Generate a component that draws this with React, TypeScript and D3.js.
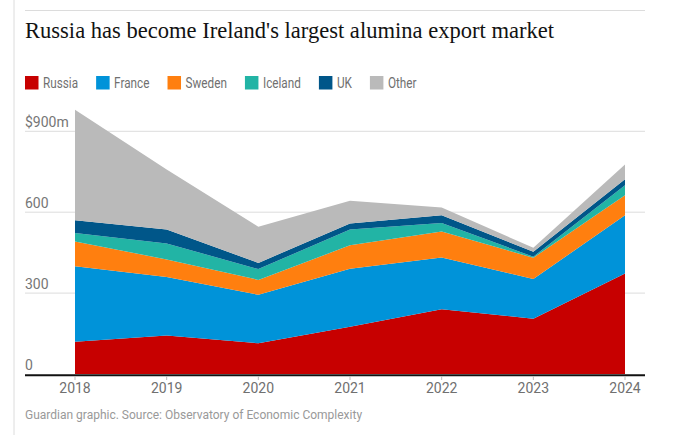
import { useMemo } from 'react'
import * as d3 from 'd3'

const years = [2018, 2019, 2020, 2021, 2022, 2023, 2024]

// Export values, $m
const russia = [120, 143, 114, 175, 240, 205, 373]
const france = [280, 217, 180, 215, 192, 147, 216]
const sweden = [91, 65, 55, 87, 96, 79, 74]
const iceland = [32, 59, 40, 59, 32, 4, 37]
const uk = [47, 52, 23, 22, 29, 18, 22]
const other = [410, 222, 134, 84, 28, 15, 55]

const seriesNames = ['Russia', 'France', 'Sweden', 'Iceland', 'UK', 'Other']
const seriesColors = ['#c70000', '#0093d9', '#ff7f0f', '#22b4a5', '#005689', '#bababa']
const yTicks = [0, 300, 600, 900]

const W = 676
const H = 435
const sans = 'Roboto, "Noto Sans", sans-serif'
// legend labels are drawn slightly condensed
const legendSquash = 0.84

function textWidth(text: string, font: string) {
  const ctx = document.createElement('canvas').getContext('2d')
  if (!ctx) return text.length * 7
  ctx.font = font
  return ctx.measureText(text).width
}

export default function App() {
  const margin = { left: 25, right: 31, plotLeft: 75, plotRight: 625 }

  const rows = years.map((year, i) => ({
    year,
    Russia: russia[i],
    France: france[i],
    Sweden: sweden[i],
    Iceland: iceland[i],
    UK: uk[i],
    Other: other[i],
  }))

  const x = d3.scaleLinear().domain([2018, 2024]).range([margin.plotLeft, margin.plotRight])
  const y = d3.scaleLinear().domain([0, 900]).range([374, 131.3])

  const stacked = d3.stack<any>().keys(seriesNames)(rows)
  const area = d3.area<any>()
    .x(d => x(d.data.year))
    .y0(d => y(d[0]))
    .y1(d => y(d[1]))

  // legend layout from measured label widths
  const legendItems = useMemo(() => {
    let cx = margin.left
    return seriesNames.map((name, i) => {
      const item = { name, color: seriesColors[i], x: cx }
      cx += 18 + textWidth(name, `14px ${sans}`) * legendSquash + 18
      return item
    })
  }, [])

  return (
    <div style={{ position: 'fixed', left: 0, top: 0 }}>
      <svg width={W} height={H} style={{ display: 'block', background: '#fff' }}>
        <line x1={14} x2={14} y1={0} y2={H} stroke="#dcdcdc" />
        <line x1={25} x2={645} y1={10.5} y2={10.5} stroke="#dcdcdc" />
        <text x={25} y={38} fontFamily='"Liberation Serif", serif' fontSize={22.5}
          fontWeight={500} fill="#121212" textLength={529} lengthAdjust="spacingAndGlyphs">
          Russia has become Ireland's largest alumina export market
        </text>

        {legendItems.map(d => (
          <g key={d.name} transform={`translate(${d.x},76)`}>
            <rect width={13.5} height={13.5} fill={d.color} />
            <text transform={`translate(18,12) scale(${legendSquash},1)`} fontFamily={sans}
              fontSize={14} fill="#707070">{d.name}</text>
          </g>
        ))}

        {yTicks.filter(t => t > 0).map(t => (
          <line key={t} x1={25} x2={645} y1={y(t)} y2={y(t)} stroke="#dcdcdc" />
        ))}

        {stacked.map((s, i) => (
          <path key={s.key} d={area(s) || ''} fill={seriesColors[i]} />
        ))}

        {yTicks.map(t => (
          <text key={t} x={25} y={y(t) - 4.5} fontFamily={sans} fontSize={14} fill="#767676">
            {t === 900 ? '$900m' : t}
          </text>
        ))}

        <line x1={25} x2={645} y1={375.3} y2={375.3} stroke="#121212" strokeWidth={2} />
        {years.map(yr => (
          <g key={yr} transform={`translate(${x(yr)},0)`}>
            <line y1={376} y2={380} stroke="#bbbbbb" />
            <text y={393} textAnchor="middle" fontFamily={sans} fontSize={14} fill="#707070">{yr}</text>
          </g>
        ))}

        <text x={25} y={419} fontFamily={sans} fontSize={12} fill="#999999">
          Guardian graphic. Source: Observatory of Economic Complexity
        </text>
      </svg>
    </div>
  )
}
